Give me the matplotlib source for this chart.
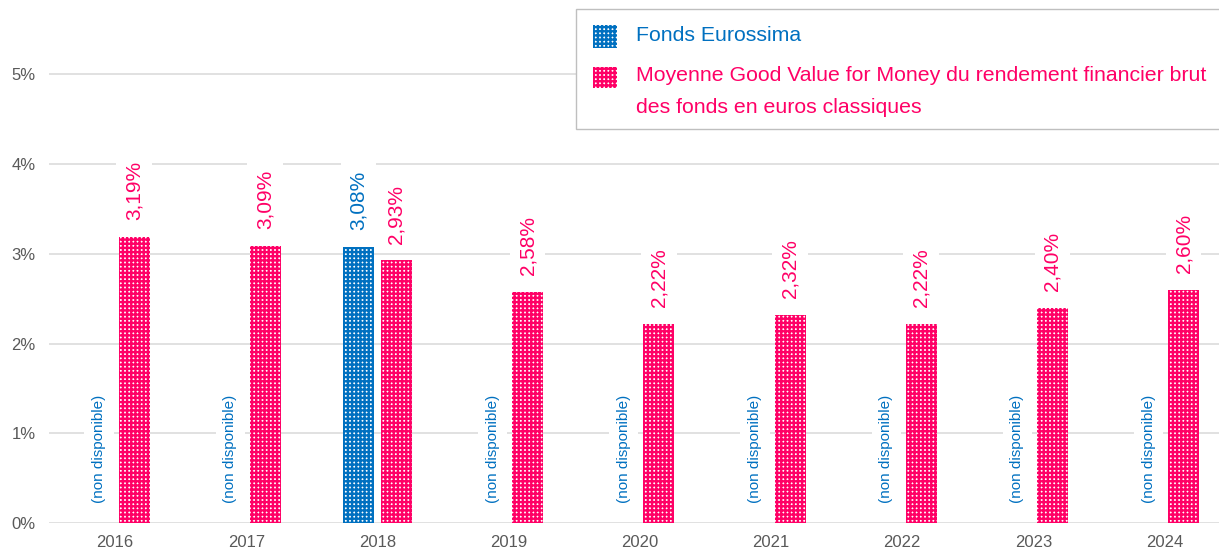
import matplotlib
matplotlib.use("Agg")
import matplotlib.pyplot as plt
from matplotlib.patches import Rectangle
import numpy as np

plt.rcParams['font.family'] = ['Liberation Sans', 'DejaVu Sans']
plt.rcParams['hatch.linewidth'] = 1.7

years = ["2016", "2017", "2018", "2019", "2020", "2021", "2022", "2023", "2024"]
eurossima = [None, None, 3.08, None, None, None, None, None, None]
moyenne_gvm = [3.19, 3.09, 2.93, 2.58, 2.22, 2.32, 2.22, 2.40, 2.60]
yticks = [0, 1, 2, 3, 4, 5]
ytick_labels = ["0%", "1%", "2%", "3%", "4%", "5%"]
series_names = ["Fonds Eurossima",
                "Moyenne Good Value for Money du rendement financier brut",
                "des fonds en euros classiques"]
na_label = "(non disponible)"

BLUE = "#0070C0"
PINK = "#FF0066"
GRID = "#D9D9D9"
TICK = "#595959"

W, H = 1219, 548
fig = plt.figure(figsize=(W / 100, H / 100), dpi=100)

# axes geometry in pixels
px_per_unit = 89.8
y0_px = 523.3
ymax = 5.8
left_px = 49.4
slot = 131.2
xlim_right = -0.5 + (W - left_px) / slot
ax = fig.add_axes([left_px / W, (H - y0_px) / H, 1 - left_px / W, ymax * px_per_unit / H])
ax.set_xlim(-0.5, xlim_right)
ax.set_ylim(0, ymax)

x = np.arange(len(years))
bw = 31 / slot
off = 19 / slot
HATCH = "++++"

for i, v in enumerate(eurossima):
    xb = x[i] - off
    if v is None:
        ax.annotate(na_label, xy=(xb + 3 / slot, 0), xytext=(0, 14.4), textcoords="offset points",
                    rotation=90, ha="center", va="bottom", fontsize=11, color=BLUE,
                    bbox=dict(boxstyle="square,pad=0.5", fc="white", ec="none"), zorder=4)
    else:
        ax.bar(xb, v, width=bw, facecolor="white", edgecolor=BLUE, hatch=HATCH,
               linewidth=0, zorder=3)
        ax.annotate(f"{v:.2f}%".replace(".", ","), xy=(xb, v), xytext=(0, 12),
                    textcoords="offset points", rotation=90, ha="center", va="bottom",
                    fontsize=15, color=BLUE,
                    bbox=dict(boxstyle="square,pad=0.4", fc="white", ec="none"), zorder=4)

for i, v in enumerate(moyenne_gvm):
    xb = x[i] + off
    ax.bar(xb, v, width=bw, facecolor="white", edgecolor=PINK, hatch=HATCH,
           linewidth=0, zorder=3)
    ax.annotate(f"{v:.2f}%".replace(".", ","), xy=(xb, v), xytext=(0, 12),
                textcoords="offset points", rotation=90, ha="center", va="bottom",
                fontsize=15, color=PINK,
                bbox=dict(boxstyle="square,pad=0.4", fc="white", ec="none"), zorder=4)

ax.set_xticks(x)
ax.set_xticklabels(years)
ax.set_yticks(yticks)
ax.set_yticklabels(ytick_labels)
ax.tick_params(axis="both", length=0, labelsize=12, labelcolor=TICK)
ax.tick_params(axis="x", pad=8.5)
ax.tick_params(axis="y", pad=10)
ax.yaxis.grid(True, color=GRID, linewidth=1.1, zorder=0)
ax.set_axisbelow(True)
for s in ax.spines.values():
    s.set_visible(False)

# legend (drawn manually in figure pixel coordinates)
def fx(px):
    return px / W

def fy(py):
    return 1 - py / H

fig.patches.append(Rectangle((fx(576), fy(129)), fx(700), (129 - 9.5) / H,
                             transform=fig.transFigure, facecolor="white",
                             edgecolor="#BFBFBF", linewidth=1.0, zorder=5))
fig.patches.append(Rectangle((fx(593), fy(47.7)), fx(24), 22.7 / H,
                             transform=fig.transFigure, facecolor="white",
                             edgecolor=BLUE, hatch=HATCH, linewidth=0, zorder=6))
fig.patches.append(Rectangle((fx(593), fy(88.3)), fx(24), 21.6 / H,
                             transform=fig.transFigure, facecolor="white",
                             edgecolor=PINK, hatch=HATCH, linewidth=0, zorder=6))
fig.text(fx(636), fy(35.5), series_names[0], color=BLUE, fontsize=15.3,
         ha="left", va="center", zorder=7)
fig.text(fx(636), fy(76), series_names[1], color=PINK, fontsize=15.3,
         ha="left", va="center", zorder=7)
fig.text(fx(636), fy(107.5), series_names[2], color=PINK, fontsize=15.3,
         ha="left", va="center", zorder=7)

fig.savefig("out.png", dpi=100)
